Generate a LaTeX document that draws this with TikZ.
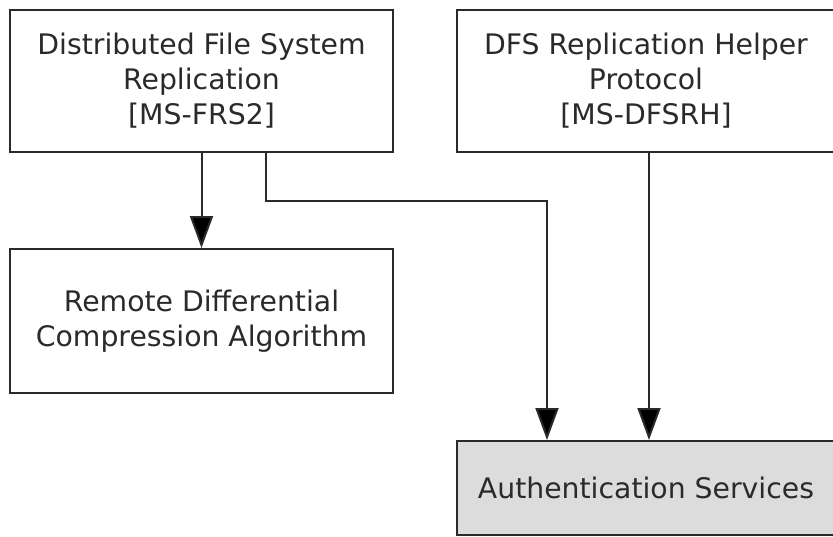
\documentclass[tikz,border=0pt]{standalone}
\usepackage{fontspec}
\setmainfont{DejaVu Sans}
\usetikzlibrary{arrows.meta}
\definecolor{edge}{HTML}{2A2A2A}
\definecolor{grayfill}{HTML}{DCDCDC}
\definecolor{txt}{HTML}{2A2A2A}
\begin{document}
\begin{tikzpicture}[x=1pt,y=1pt,
  box/.style={draw=edge,line width=2pt,fill=white,align=center,text=txt,
    font=\fontsize{28.3}{35}\selectfont,inner sep=0pt},
  arr/.style={draw=edge,line width=2pt,-{Triangle[width=23pt,length=32pt,fill=black]}}]
\useasboundingbox (0,0) rectangle (833,-536);
\node[box,minimum width=383pt,minimum height=142pt] (b1) at (201.5,-81)
  {Distributed File System\\Replication\\{}[MS-FRS2]};
\node[box,minimum width=378pt,minimum height=142pt] (b2) at (646,-81)
  {DFS Replication Helper\\Protocol\\{}[MS-DFSRH]};
\node[box,minimum width=383pt,minimum height=144pt] (b3) at (201.5,-321)
  {Remote Differential\\Compression Algorithm};
\node[box,fill=grayfill,minimum width=378pt,minimum height=94pt] (b4) at (646,-488)
  {Authentication Services};
\coordinate (c1) at (266,-201);
\coordinate (c2) at (547,-201);
\coordinate (c3) at (649,-300);
\draw[arr] (b1.south) -- (b3.north);
\draw[arr] (b1.south -| c1) -- (c1) -- (c2) -- (b4.north -| c2);
\draw[arr] (b2.south -| c3) -- (b4.north -| c3);
\end{tikzpicture}
\end{document}
